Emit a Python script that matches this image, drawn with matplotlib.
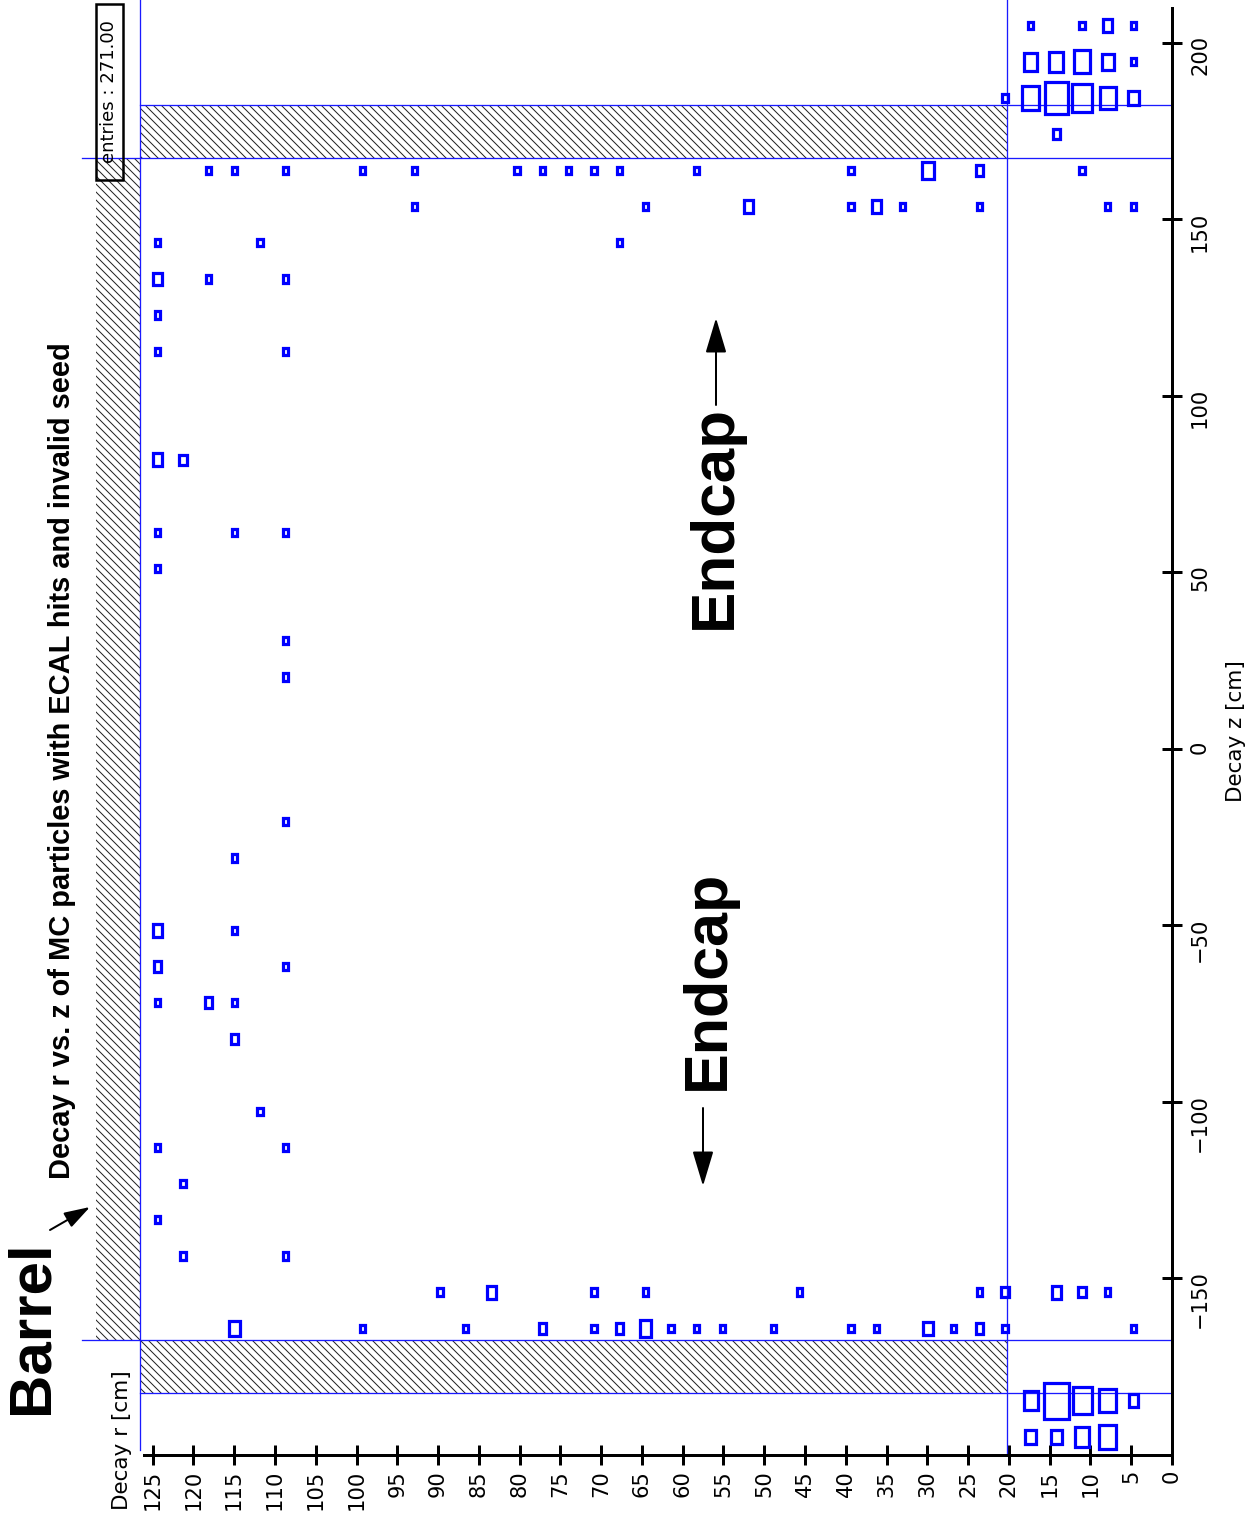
import numpy as np
import matplotlib
matplotlib.use('Agg')
import matplotlib.pyplot as plt
from matplotlib.patches import Rectangle

# 2D histogram binning: decay r (40 bins) and decay z (40 bins), in cm
r_edges = np.linspace(0, 126, 41)
z_edges = np.linspace(-200, 210, 41)

# filled cells, row by row in z bin: z bin index, r bin index, entries
cell_zbin = [39, 39, 39, 39,
             38, 38, 38, 38, 38,
             37, 37, 37, 37, 37, 37,
             36,
             35, 35, 35, 35, 35, 35, 35, 35, 35, 35, 35, 35, 35, 35, 35,
             34, 34, 34, 34, 34, 34, 34, 34, 34,
             33, 33, 33,
             32, 32, 32,
             31,
             30, 30,
             27, 27,
             25, 25, 25,
             24, 22, 21, 17, 16,
             14, 14,
             13, 13,
             12, 12, 12,
             11, 9,
             8, 8,
             7, 6,
             5, 5,
             4, 4, 4, 4, 4, 4, 4, 4, 4, 4,
             3, 3, 3, 3, 3, 3, 3, 3, 3, 3, 3, 3, 3, 3, 3, 3, 3, 3,
             1, 1, 1, 1, 1,
             0, 0, 0, 0]
cell_rbin = [5, 3, 2, 1,
             5, 4, 3, 2, 1,
             6, 5, 4, 3, 2, 1,
             4,
             37, 36, 34, 31, 29, 25, 24, 23, 22, 21, 18, 12, 9, 7, 3,
             29, 20, 16, 12, 11, 10, 7, 2, 1,
             39, 35, 21,
             39, 37, 34,
             39,
             39, 34,
             39, 38,
             39, 36, 34,
             39, 34, 34, 34, 36,
             39, 36,
             39, 34,
             39, 37, 36,
             36, 35,
             39, 34,
             38, 39,
             38, 34,
             28, 26, 22, 20, 14, 7, 6, 4, 3, 2,
             36, 31, 27, 24, 22, 21, 20, 19, 18, 17, 15, 12, 11, 9, 8, 7, 6, 1,
             5, 4, 3, 2, 1,
             5, 4, 3, 2]
cell_count = [1, 1, 3, 1,
              6, 7, 10, 5, 1,
              1, 10, 18, 14, 9, 4,
              2,
              1, 1, 1, 1, 1, 1, 1, 1, 1, 1, 1, 1, 5, 2, 1,
              1, 1, 3, 1, 3, 1, 1, 1, 1,
              1, 1, 1,
              3, 1, 1,
              1,
              1, 1,
              3, 2,
              1, 1, 1,
              1, 1, 1, 1, 1,
              3, 1,
              2, 1,
              1, 2, 1,
              2, 1,
              1, 1,
              1, 1,
              1, 1,
              1, 3, 1, 1, 1, 1, 2, 3, 2, 1,
              4, 1, 1, 2, 1, 2, 5, 1, 1, 1, 1, 1, 1, 3, 1, 2, 1, 1,
              7, 24, 13, 10, 3,
              4, 4, 7, 10]
n_entries = 271.0

# ECAL geometry (cm)
barrel_r_in = 126.5
barrel_r_out = 132.0
endcap_z_in = 167.4
endcap_z_out = 182.3
endcap_r_in = 20.2

plt.rcParams['font.family'] = 'DejaVu Sans'
plt.rcParams['hatch.linewidth'] = 1.0

W, H = 1257, 1521
fig = plt.figure(figsize=(W / 72, H / 72), dpi=72)
ax = fig.add_axes([0, 0, 1, 1])

# page is drawn rotated: r runs right to left, z runs bottom to top
px_r, px_z = 8.155, 3.53
r_zero_px, z_bot_px = 1172, 1455
ax.set_xlim(r_zero_px / px_r, (r_zero_px - W) / px_r)
ax.set_ylim(-200 - (H - z_bot_px) / px_z, 210 + 7.5 / px_z)
ztop = ax.get_ylim()[1]

for s in ['left', 'top']:
    ax.spines[s].set_visible(False)
ax.spines['bottom'].set_position(('data', -200))
ax.spines['bottom'].set_bounds(0, 126)
ax.spines['right'].set_position(('data', 0))
ax.spines['right'].set_bounds(-200, 210)
for s in ['bottom', 'right']:
    ax.spines[s].set_linewidth(3)

ax.xaxis.set_ticks_position('bottom')
ax.yaxis.set_ticks_position('right')
ax.set_xticks(np.arange(0, 126, 5))
ax.set_yticks(np.arange(-150, 201, 50))
ax.tick_params(axis='x', direction='inout', length=20, width=3,
               labelsize=21, labelrotation=90, pad=5)
ax.tick_params(axis='y', direction='inout', length=20, width=3,
               labelsize=21, labelrotation=90, pad=8)
ax.set_yticklabels(['\u2212150', '\u2212100', '\u221250', '0', '50', '100', '150', '200'])

# hatched ECAL volumes
hatch_kw = dict(fill=False, hatch='\\' * 3, edgecolor='#222222', linewidth=0, zorder=1)
ax.add_patch(Rectangle((barrel_r_in, -endcap_z_in), barrel_r_out - barrel_r_in,
                       2 * endcap_z_in, **hatch_kw))
ax.add_patch(Rectangle((endcap_r_in, endcap_z_in), barrel_r_in - endcap_r_in,
                       endcap_z_out - endcap_z_in, **hatch_kw))
ax.add_patch(Rectangle((endcap_r_in, -endcap_z_out), barrel_r_in - endcap_r_in,
                       endcap_z_out - endcap_z_in, **hatch_kw))

# ECAL boundary lines
lc = dict(color='#1a1aff', lw=1.3, zorder=2)
ax.plot([barrel_r_in, barrel_r_in], [-198.6, ztop], **lc)
ax.plot([endcap_r_in, endcap_r_in], [-200, ztop], **lc)
for zz in (endcap_z_in, -endcap_z_in):
    ax.plot([133.7, 0], [zz, zz], **lc)
for zz in (endcap_z_out, -endcap_z_out):
    ax.plot([barrel_r_in, 0], [zz, zz], **lc)

# box histogram: box area proportional to bin content
dr = r_edges[1] - r_edges[0]
dz = z_edges[1] - z_edges[0]
nmax = max(cell_count)
for iz, ir, n in zip(cell_zbin, cell_rbin, cell_count):
    rc = 0.5 * (r_edges[ir] + r_edges[ir + 1])
    zc = 0.5 * (z_edges[iz] + z_edges[iz + 1])
    f = np.sqrt(n / nmax)
    w, h = dr * f, dz * f
    ax.add_patch(Rectangle((rc - w / 2, zc - h / 2), w, h, fill=False,
                           edgecolor='blue', linewidth=3.2, zorder=3))


def fpos(x, y):
    return x / W, 1 - y / H


bold = dict(family='Liberation Sans', fontweight='bold', rotation=90,
            ha='center', va='center')
fig.text(*fpos(62, 761), 'Decay r vs. z of MC particles with ECAL hits and invalid seed',
         fontsize=29, **bold)
fig.text(*fpos(32, 1327), 'Barrel', fontsize=60, **bold)
fig.text(*fpos(715, 517), 'Endcap', fontsize=62, **bold)
fig.text(*fpos(708, 980), 'Endcap', fontsize=61, **bold)

fig.text(*fpos(122, 1440), 'Decay r [cm]', fontsize=21.5, rotation=90,
         ha='center', va='center')
fig.text(*fpos(1236, 731), 'Decay z [cm]', fontsize=21.5, rotation=90,
         ha='center', va='center')

# stats box
fig.patches.append(Rectangle(fpos(96, 180), 27 / W, 176 / H, fill=False,
                             edgecolor='black', linewidth=2.5,
                             transform=fig.transFigure, figure=fig))
fig.text(*fpos(109.5, 92), 'entries : %.2f' % n_entries, fontsize=18,
         rotation=90, ha='center', va='center')

# arrows
def arrow(tail, tip, hl, hw):
    ax.annotate('', xy=(tip[0], H - tip[1]), xytext=(tail[0], H - tail[1]),
                xycoords='figure pixels', textcoords='figure pixels',
                arrowprops=dict(arrowstyle='-|>,head_length=%g,head_width=%g' % (hl, hw),
                                color='black', lw=2, mutation_scale=20,
                                shrinkA=0, shrinkB=0))


arrow((716, 405), (716, 318), 1.5, 0.45)
arrow((703, 1108), (703, 1186), 1.5, 0.45)
arrow((50, 1230), (90, 1207), 1.1, 0.35)

fig.savefig('out.png', dpi=72)
